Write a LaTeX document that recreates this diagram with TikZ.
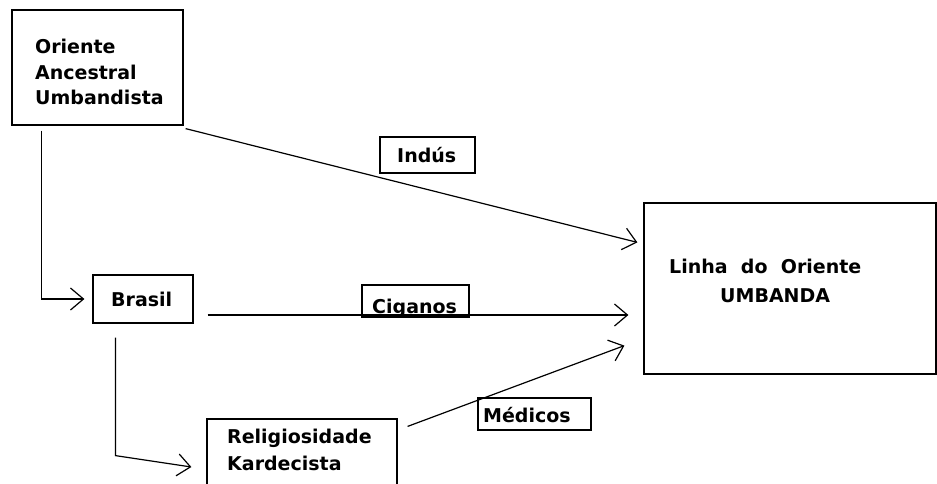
\documentclass[tikz,border=0pt]{standalone}
\usepackage{fontspec}
\setmainfont{DejaVu Sans}
\usetikzlibrary{arrows.meta}
\begin{document}
\begin{tikzpicture}[x=1pt,y=-1pt,
  box/.style={draw=black,line width=1.2pt,inner sep=0pt},
  txt/.style={inner sep=0pt,anchor=base west,font=\fontsize{19}{23}\selectfont\bfseries},
  arr/.style={line width=1.2pt,-{Straight Barb[length=13pt,width=22pt,line width=1.2pt]}}]
\clip (0,0) rectangle (937,483);
\fill[white] (0,0) rectangle (937,483);
% boxes
\node[box,minimum width=171pt,minimum height=115pt] (oa) at (97.5,67.5) {};
\node[box,minimum width=100pt,minimum height=48pt] (br) at (143,299) {};
\node[box,minimum width=190pt,minimum height=76pt] (rk) at (302,457) {};
\node[box,minimum width=292pt,minimum height=171pt] (li) at (790,288.5) {};
\node[box,minimum width=95pt,minimum height=36pt] (indus) at (427.5,155) {};
\node[box,minimum width=107pt,minimum height=32pt] (cig) at (415.5,301) {};
\node[box,minimum width=113pt,minimum height=32pt] (med) at (534.5,414) {};
% texts
\node[txt] (oa1) at (35,53) {Oriente};
\node[txt] (oa2) at (35,79) {Ancestral};
\node[txt] (oa3) at (35,104) {Umbandista};
\node[txt] (brt) at (111,306) {Brasil};
\node[txt] (rk1) at (227,443) {Religiosidade};
\node[txt] (rk2) at (227,470) {Kardecista};
\node[txt] (li1) at (669,273) {Linha\hspace{0.7em}do\hspace{0.7em}Oriente};
\node[txt] (li2) at (720,302) {UMBANDA};
\node[txt] (indust) at (397,162) {Indús};
\node[txt] (cigt) at (372,313) {Ciganos};
\node[txt] (medt) at (483,422) {Médicos};
% connectors
\draw[arr] ([xshift=30pt,yshift=-5pt]oa.south west) |- ([xshift=-8pt]br.west);
\draw[arr] ([xshift=2pt,yshift=-3pt]oa.south east) -- ([xshift=-6pt,yshift=-40pt]li.north west);
\draw[arr] ([xshift=14pt,yshift=-16pt]br.east) -- ([xshift=-15pt,yshift=-26.5pt]li.west);
\draw[arr] ([xshift=23pt,yshift=-14pt]br.south west) -- ++(0,118) -- ([xshift=-15pt,yshift=-10pt]rk.west);
\draw[arr] ([xshift=10pt,yshift=-8pt]rk.north east) -- ([xshift=-19pt,yshift=29pt]li.south west);
\end{tikzpicture}
\end{document}
